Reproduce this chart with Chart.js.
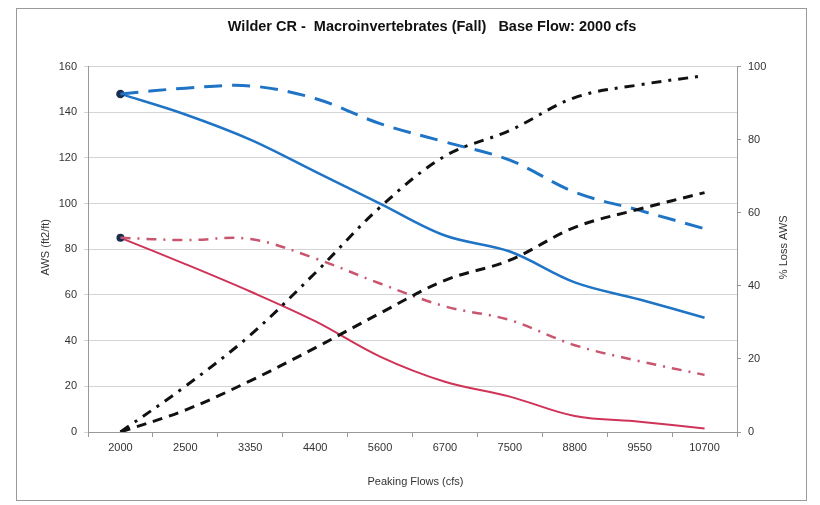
<!DOCTYPE html>
<html>
<head>
<meta charset="utf-8">
<script src="https://cdn.jsdelivr.net/npm/chart.js@4"></script>
<style>
  html, body { margin: 0; padding: 0; background: #fff; }
</style>
</head>
<body>
<canvas id="c" width="820" height="505"></canvas>
<script>
// peaking flows (cfs) on the category axis
const flows = ['2000', '2500', '3350', '4400', '5600', '6700', '7500', '8800', '9550', '10700'];

// AWS (ft2/ft), left axis
const awsBlue     = [148, 139, 128, 114, 100, 86, 79, 65.5, 58, 50];
const awsBlueBase = [148, 150.5, 151.5, 146, 135, 127, 119, 105, 97, 89];
const awsRed      = [85, 73.5, 61.5, 48.5, 33, 22, 15.5, 7, 4.5, 1.5];
const awsRedBase  = [85, 84, 84.5, 76, 65, 55, 49, 38, 31, 25];

// % loss AWS, right axis
const lossRed  = [0, 12.5, 26.5, 43.5, 61.5, 75.5, 82.5, 91.5, 95, 97.5];
const lossBlue = [0, 6, 14, 23, 32.5, 41.5, 47, 56, 61, 65.5];

const leftTicks = [0, 20, 40, 60, 80, 100, 120, 140, 160];
const rightTicks = [0, 20, 40, 60, 80, 100];

const font = '"Liberation Sans", Arial, sans-serif';
const blue = '#1f74c6';
const red = '#cf3357';
const redLight = '#c9566f';
const navy = '#1b2d4f';

// only the first point carries a marker
const firstOnly = r => flows.map((f, i) => i === 0 ? r : 0);

// frame, chart title and axis titles (right one reads bottom to top)
const extras = {
  id: 'extras',
  beforeDraw(chart) {
    const ctx = chart.ctx;
    ctx.save();
    ctx.fillStyle = '#fff';
    ctx.fillRect(0, 0, chart.width, chart.height);
    ctx.restore();
  },
  afterDraw(chart) {
    const ctx = chart.ctx;
    const a = chart.chartArea;
    ctx.save();
    ctx.strokeStyle = '#9a9a9a';
    ctx.lineWidth = 1;
    ctx.strokeRect(16.5, 8.5, 790, 492);
    ctx.textAlign = 'center';
    ctx.textBaseline = 'middle';
    ctx.fillStyle = '#111';
    ctx.font = 'bold 14.5px ' + font;
    ctx.fillText('Wilder CR -  Macroinvertebrates (Fall)   Base Flow: 2000 cfs', 432, 27);
    ctx.fillStyle = '#333';
    ctx.font = '11px ' + font;
    ctx.fillText('Peaking Flows (cfs)', (a.left + a.right) / 2 + 3, 482);
    ctx.save();
    ctx.translate(46, (a.top + a.bottom) / 2 - 2);
    ctx.rotate(-Math.PI / 2);
    ctx.fillText('AWS (ft2/ft)', 0, 0);
    ctx.restore();
    ctx.save();
    ctx.translate(784, (a.top + a.bottom) / 2 - 2);
    ctx.rotate(-Math.PI / 2);
    ctx.fillText('% Loss AWS', 0, 0);
    ctx.restore();
    ctx.restore();
  }
};

new Chart(document.getElementById('c'), {
  type: 'line',
  data: {
    labels: flows,
    datasets: [
      { data: lossRed, yAxisID: 'y2', borderColor: '#111', borderWidth: 3, borderDash: [10, 7, 3, 7], pointRadius: 0, tension: 0.35 },
      { data: lossBlue, yAxisID: 'y2', borderColor: '#111', borderWidth: 3, borderDash: [10, 7], pointRadius: 0, tension: 0.35 },
      { data: awsRedBase, yAxisID: 'y', borderColor: redLight, borderWidth: 2.5, borderDash: [10, 7, 2, 7], pointRadius: 0, tension: 0.35 },
      { data: awsBlueBase, yAxisID: 'y', borderColor: blue, borderWidth: 3, borderDash: [18, 10], pointRadius: 0, tension: 0.35 },
      { data: awsRed, yAxisID: 'y', borderColor: red, borderWidth: 2, pointRadius: firstOnly(3), pointBackgroundColor: navy, pointBorderColor: navy, tension: 0.35 },
      { data: awsBlue, yAxisID: 'y', borderColor: blue, borderWidth: 2.5, pointRadius: firstOnly(3), pointBackgroundColor: navy, pointBorderColor: navy, tension: 0.35 }
    ]
  },
  options: {
    responsive: false,
    animation: false,
    layout: { padding: { top: 66.5, left: 0, right: 0, bottom: 0 } },
    plugins: {
      legend: { display: false },
      tooltip: { enabled: false },
      title: { display: false }
    },
    scales: {
      x: {
        offset: true,
        afterFit: s => { s.height = 73; },
        grid: { offset: true, drawOnChartArea: false, tickLength: 5, color: '#999' },
        border: { color: '#999' },
        ticks: { color: '#333', font: { family: font, size: 11 }, padding: 4, maxRotation: 0 }
      },
      y: {
        position: 'left',
        min: 0, max: 160,
        afterFit: s => { s.width = 88; },
        afterBuildTicks: s => { s.ticks = leftTicks.map(v => ({ value: v })); },
        grid: { color: '#d4d4d4', tickLength: 4 },
        border: { color: '#999' },
        ticks: { color: '#333', font: { family: font, size: 11 }, padding: 7 }
      },
      y2: {
        position: 'right',
        min: 0, max: 100,
        afterFit: s => { s.width = 83; },
        afterBuildTicks: s => { s.ticks = rightTicks.map(v => ({ value: v })); },
        grid: { drawOnChartArea: false, color: '#999', tickLength: 4 },
        border: { color: '#999' },
        ticks: { color: '#333', font: { family: font, size: 11 }, padding: 7 }
      }
    }
  },
  plugins: [extras]
});
</script>
</body>
</html>
